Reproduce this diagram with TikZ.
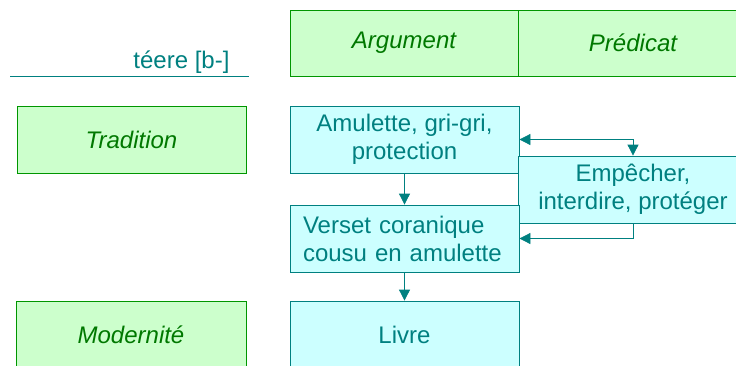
\documentclass[tikz,border=0pt]{standalone}
\usepackage{fontspec}
\setmainfont{Liberation Sans}
\usetikzlibrary{arrows.meta}
\definecolor{tl}{RGB}{0,128,128}
\definecolor{cyanfill}{RGB}{204,255,255}
\definecolor{grn}{RGB}{0,150,0}
\definecolor{grnfill}{RGB}{204,255,204}
\definecolor{grntext}{RGB}{0,120,0}
\begin{document}
\begin{tikzpicture}
            [x=1pt,y=-1pt,
             Row/.style={draw=grn,fill=grnfill,line width=0.8pt,minimum width=229pt,minimum height=67pt,
                         text=grntext,font=\fontsize{24}{28}\selectfont\itshape},
             Sense/.style={draw=tl,fill=cyanfill,line width=0.8pt,minimum width=229pt,minimum height=67pt,
                         text=tl,align=center,font=\fontsize{24}{28}\selectfont},
             Link/.style={draw=tl,line width=0.8pt,-{Triangle[width=11pt,length=11pt]}}];
            \useasboundingbox (0,0) rectangle (736,365);
            \clip (0,0) rectangle (736,365);

            % en-tete
            \draw[tl,line width=0.8pt] (10,76)--(249,76);
            \node[anchor=east,text=tl,font=\fontsize{24}{28}\selectfont] (mot) at (233,62) {téere [b-]};
            \node[Row,minimum width=228pt,minimum height=66pt] (arg) at (404,43) {Argument};
            \node[Row,minimum width=230pt,minimum height=66pt] (pred) at (633,43) {Prédicat};

            % lignes
            \node[Row] (trad) at (131.5,139.5) {Tradition};
            \node[Row,minimum width=230pt] (mod) at (131,334.5) {Modernité};

            \node[Sense] (amul) at (404.5,139.5) {Amulette, gri-gri,\\protection};
            \node[Sense,minimum width=230pt] (emp) at (633,189.5) {Empêcher,\\interdire, protéger};
            \node[Sense,align=left,text width=203pt,inner xsep=13pt] (vers) at (404.5,238.5)
                {Verset coranique\\cousu en amulette};
            \node[Sense] (livre) at (404.5,334.5) {Livre};

            \draw[Link] (amul) to (vers);
            \draw[Link] (vers) to (livre);
            \draw[Link,{Triangle[width=11pt,length=11pt]}-{Triangle[width=11pt,length=11pt]}] (amul.east) -| (emp.north);
            \draw[Link] (emp.south) |- (vers.east);
        \end{tikzpicture}
\end{document}
